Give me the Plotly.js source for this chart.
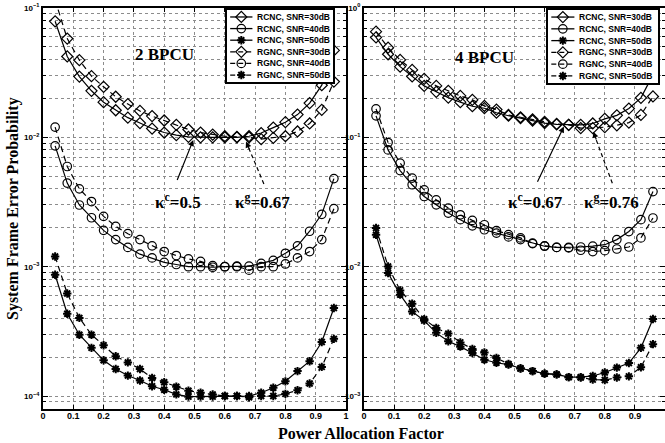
<!DOCTYPE html>
<html><head><meta charset="utf-8">
<script src="https://cdn.plot.ly/plotly-3.0.1.min.js"></script>
<style>html,body{margin:0;padding:0;background:#fff}#chart{width:665px;height:443px}</style>
</head><body><div id="chart"></div>
<script>
// Power allocation factor (kappa)
const kappa = [0.04,0.08,0.12,0.16,0.20,0.24,0.28,0.32,0.36,0.40,0.44,0.48,0.52,0.56,0.60,0.64,0.68,0.72,0.76,0.80,0.84,0.88,0.92,0.96];

// 2 BPCU (left panel)
const L_RCNC30 = [0.0789,0.0422,0.0295,0.0229,0.0187,0.0162,0.0142,0.0129,0.0117,0.0109,0.0104,0.0101,0.0100,0.0100,0.0100,0.0100,0.0102,0.0108,0.0119,0.0131,0.0150,0.0184,0.0253,0.0470];
const L_RCNC40 = [0.0086,0.00443,0.00300,0.00239,0.00191,0.00162,0.00141,0.00125,0.00117,0.00108,0.00104,0.00100,0.00100,0.00099,0.00100,0.00100,0.00101,0.00106,0.00112,0.00127,0.00145,0.00188,0.00254,0.00480];
const L_RCNC50 = [0.000867,0.000433,0.000298,0.000236,0.000189,0.000162,0.000144,0.000132,0.000119,0.000112,0.000103,0.000099,0.000099,0.000099,0.000100,0.000100,0.000100,0.000106,0.000116,0.000130,0.000156,0.000186,0.000262,0.000480];
const L_RGNC30 = [0.115,0.0580,0.0395,0.0297,0.0246,0.0206,0.0181,0.0160,0.0146,0.0135,0.0125,0.0115,0.0109,0.0105,0.0102,0.0101,0.0100,0.0097,0.0099,0.0102,0.0111,0.0128,0.0163,0.0270];
const L_RGNC40 = [0.0120,0.00595,0.00400,0.00319,0.00245,0.00205,0.00180,0.00162,0.00145,0.00131,0.00122,0.00115,0.00110,0.00102,0.00100,0.00101,0.00094,0.00100,0.00100,0.00105,0.00117,0.00131,0.00162,0.00281];
const L_RGNC50 = [0.00120,0.00062,0.000402,0.000298,0.000247,0.000203,0.000182,0.000162,0.000138,0.000128,0.000118,0.000110,0.000106,0.000103,0.000100,0.000100,0.000098,0.000100,0.000100,0.000104,0.000111,0.000125,0.000168,0.000277];

// 4 BPCU (right panel)
const R_RCNC30 = [0.592,0.439,0.352,0.296,0.250,0.225,0.203,0.187,0.174,0.168,0.155,0.147,0.141,0.135,0.129,0.126,0.125,0.125,0.128,0.139,0.148,0.167,0.202,0.304];
const R_RCNC40 = [0.1466,0.0800,0.0554,0.0430,0.0349,0.0301,0.0260,0.0231,0.0207,0.0193,0.0182,0.0170,0.0162,0.0151,0.0144,0.0141,0.0141,0.0142,0.0144,0.0148,0.0162,0.0187,0.0231,0.0381];
const R_RCNC50 = [0.01767,0.00893,0.00608,0.00450,0.00383,0.00308,0.00265,0.00241,0.00215,0.00191,0.00181,0.00175,0.00164,0.00156,0.00149,0.00147,0.00140,0.00140,0.00143,0.00152,0.00166,0.00180,0.00236,0.00394];
const R_RGNC30 = [0.656,0.493,0.397,0.332,0.283,0.250,0.229,0.209,0.195,0.175,0.164,0.149,0.143,0.138,0.132,0.127,0.125,0.118,0.118,0.120,0.124,0.130,0.149,0.207];
const R_RGNC40 = [0.166,0.0912,0.0632,0.0484,0.0393,0.0329,0.0284,0.0252,0.0228,0.0211,0.0190,0.0177,0.0167,0.0152,0.0145,0.0141,0.0140,0.0134,0.0131,0.0133,0.0137,0.0142,0.0167,0.0238];
const R_RGNC50 = [0.0199,0.01005,0.00656,0.00518,0.00393,0.00336,0.00304,0.00260,0.00231,0.00217,0.00197,0.00177,0.00163,0.00156,0.00149,0.00147,0.00140,0.00139,0.00134,0.00133,0.00139,0.00142,0.00167,0.00252];

// Legend labels and tick labels
const legendNames = ['RCNC, SNR=30dB','RCNC, SNR=40dB','RCNC, SNR=50dB','RGNC, SNR=30dB','RGNC, SNR=40dB','RGNC, SNR=50dB'];
const xTickVals = [0,0.1,0.2,0.3,0.4,0.5,0.6,0.7,0.8,0.9,1];
const xTickText = ['0','0.1','0.2','0.3','0.4','0.5','0.6','0.7','0.8','0.9','1'];
const yTickValsL = [1e-4,1e-3,1e-2,1e-1];
const yTickTextL = ['10<sup>−4</sup>','10<sup>−3</sup>','10<sup>−2</sup>','10<sup>−1</sup>'];
const yTickValsR = [1e-3,1e-2,1e-1,1];
const yTickTextR = ['10<sup>−3</sup>','10<sup>−2</sup>','10<sup>−1</sup>','10<sup>0</sup>'];

const SANS = 'Liberation Sans, Arial, sans-serif';
const SERIF = 'Liberation Serif, Times New Roman, serif';
const symbols = ['diamond-open','circle-open','asterisk-open'];
const msizes = [8.5,8.5,7];
const mlw = [1.2,1.2,2];
const DASH = '6px,4px';

function mk(i){ return {symbol:symbols[i%3], size:msizes[i%3], color:'black', line:{color:'black', width:mlw[i%3]}}; }

const traces = [];
const leftSeries = [L_RCNC30,L_RCNC40,L_RCNC50,L_RGNC30,L_RGNC40,L_RGNC50];
const rightSeries = [R_RCNC30,R_RCNC40,R_RCNC50,R_RGNC30,R_RGNC40,R_RGNC50];
leftSeries.forEach((s,i)=>traces.push({x:kappa, y:s, xaxis:'x', yaxis:'y', mode:'lines+markers', name:legendNames[i],
  line:{color:'black', width:1.2, dash: i<3 ? 'solid' : DASH}, marker:mk(i), showlegend:false}));
rightSeries.forEach((s,i)=>traces.push({x:kappa, y:s, xaxis:'x2', yaxis:'y2', mode:'lines+markers', name:legendNames[i],
  line:{color:'black', width:1.2, dash: i<3 ? 'solid' : DASH}, marker:mk(i), showlegend:false}));

// custom compact legends (inset axes)
const annotations = [];
[['x3','y3'],['x4','y4']].forEach(([xa,ya])=>{
  legendNames.forEach((nm,i)=>{
    traces.push({x:[0.03,0.135,0.24], y:[i,i,i], xaxis:xa, yaxis:ya, mode:'lines+markers', showlegend:false, hoverinfo:'skip',
      line:{color:'black', width:1.3, dash: i<3 ? 'solid' : '5px,3px'},
      marker:Object.assign(mk(i), {opacity:[0,1,0]})});
    annotations.push({xref:xa, yref:ya, x:0.265, y:i, xanchor:'left', yanchor:'middle', showarrow:false,
      text:'<b>'+nm+'</b>', font:{family:SANS, size:8.5, color:'black'}});
  });
});

function minorVals(lo,hi){const v=[];for(let e=lo;e<=hi;e++)for(let m=2;m<=9;m++)v.push(m*Math.pow(10,e));return v;}

const gridC = '#8c8c8c';
function xax(domain, anchor){
  return {domain:domain, anchor:anchor, range:[0,1], tickmode:'array', tickvals:xTickVals, ticktext:xTickText,
    ticks:'inside', ticklen:4, tickwidth:1, tickcolor:'black', showline:true, linewidth:2, linecolor:'black', mirror:'allticks',
    showgrid:true, gridcolor:gridC, griddash:'dot', gridwidth:1, zeroline:false, fixedrange:true, ticklabelstandoff:-3,
    tickfont:{family:SANS, size:9, weight:'bold', color:'black'}};
}
function yax(range, tv, tt, anchor, minor){
  return {type:'log', range:range, anchor:anchor, domain:[0,1], tickmode:'array', tickvals:tv, ticktext:tt,
    ticks:'inside', ticklen:5, tickwidth:1, tickcolor:'black', showline:true, linewidth:2, linecolor:'black', mirror:'allticks',
    showgrid:true, gridcolor:gridC, griddash:'dot', gridwidth:1, zeroline:false, fixedrange:true,
    minor:{tickmode:'array', tickvals:minor, ticks:'inside', ticklen:3, tickcolor:'black', showgrid:true, gridcolor:gridC, griddash:'dot', gridwidth:1},
    tickfont:{family:SANS, size:8, weight:'bold', color:'black'}};
}
function legAx(domain, anchor, isY){
  const a = {domain:domain, anchor:anchor, showline:true, linewidth:2, linecolor:'black', mirror:true,
    showgrid:false, zeroline:false, showticklabels:false, ticks:'', fixedrange:true};
  a.range = isY ? [5.6,-0.6] : [0,1];
  return a;
}

const W=665, H=443, T=8, B=34, PH=H-T-B;
const py = y => (H-B-y)/PH;   // pixel y -> paper fraction
const tFont = {family:SERIF, size:17, weight:'bold', color:'black'};
const arrowBase = {text:'', showarrow:true, arrowhead:2, arrowsize:1, arrowwidth:1.2, arrowcolor:'black', standoff:0};

const layout = {
  width:W, height:H, margin:{l:0,r:0,t:T,b:B}, paper_bgcolor:'white', plot_bgcolor:'white', showlegend:false,
  xaxis: xax([43/W, 346/W], 'y'),
  yaxis: yax([-4.1,-1], yTickValsL, yTickTextL, 'x', minorVals(-5,-2)),
  xaxis2: xax([364/W, 1], 'y2'),
  yaxis2: yax([-3.1,0], yTickValsR, yTickTextR, 'x2', minorVals(-4,-1)),
  xaxis3: legAx([227/W, 333/W], 'y3', false),
  yaxis3: legAx([py(82), py(10)], 'x3', true),
  xaxis4: legAx([548/W, 658/W], 'y4', false),
  yaxis4: legAx([py(83), py(10)], 'x4', true),
  shapes: [
    {type:'rect', xref:'x3', yref:'y3', x0:0, x1:1, y0:-0.6, y1:5.6, fillcolor:'white', line:{width:0}, layer:'below'},
    {type:'rect', xref:'x4', yref:'y4', x0:0, x1:1, y0:-0.6, y1:5.6, fillcolor:'white', line:{width:0}, layer:'below'},
    // dashed pointer lines (kappa^g)
    {type:'line', xref:'x', yref:'y', x0:0.729, y0:Math.pow(10,-2.36), x1:0.675, y1:Math.pow(10,-2.06), line:{color:'black', width:1.2, dash:'4px,3px'}},
    {type:'line', xref:'x2', yref:'y2', x0:0.825, y0:Math.pow(10,-1.355), x1:0.766, y1:Math.pow(10,-0.985), line:{color:'black', width:1.2, dash:'4px,3px'}}
  ],
  annotations: annotations.concat([
    {xref:'x', yref:'y', x:0.40, y:-1.363, text:'2 BPCU', showarrow:false, font:tFont},
    {xref:'x2', yref:'y2', x:0.40, y:-0.379, text:'4 BPCU', showarrow:false, font:tFont},
    {xref:'x', yref:'y', x:0.446, y:-2.49, text:'κ<sup>c</sup>=0.5', showarrow:false, font:tFont},
    {xref:'x', yref:'y', x:0.726, y:-2.49, text:'κ<sup>g</sup>=0.67', showarrow:false, font:tFont},
    {xref:'x2', yref:'y2', x:0.571, y:-1.49, text:'κ<sup>c</sup>=0.67', showarrow:false, font:tFont},
    {xref:'x2', yref:'y2', x:0.821, y:-1.49, text:'κ<sup>g</sup>=0.76', showarrow:false, font:tFont},
    // solid arrows (kappa^c)
    Object.assign({xref:'x', yref:'y', x:0.496, y:-2.02, axref:'x', ayref:'y', ax:0.441, ay:-2.342}, arrowBase),
    Object.assign({xref:'x2', yref:'y2', x:0.664, y:-0.917, axref:'x2', ayref:'y2', ax:0.574, ay:-1.355}, arrowBase),
    // heads of dashed arrows
    Object.assign({xref:'x', yref:'y', x:0.67, y:-2.033, ax:4, ay:9}, arrowBase),
    Object.assign({xref:'x2', yref:'y2', x:0.762, y:-0.956, ax:3.5, ay:9.4}, arrowBase),
    // axis titles
    {xref:'paper', yref:'paper', x:361/W, y:py(433), text:'Power Allocation Factor', showarrow:false, xanchor:'center', yanchor:'middle',
      font:{family:SERIF, size:16, weight:'bold', color:'black'}},
    {xref:'paper', yref:'paper', x:13/W, y:py(209), text:'System Frame Error Probability', showarrow:false, textangle:-90, xanchor:'center', yanchor:'middle',
      font:{family:SERIF, size:16, weight:'bold', color:'black'}}
  ])
};

Plotly.newPlot('chart', traces, layout, {staticPlot:true, displayModeBar:false});
</script></body></html>
